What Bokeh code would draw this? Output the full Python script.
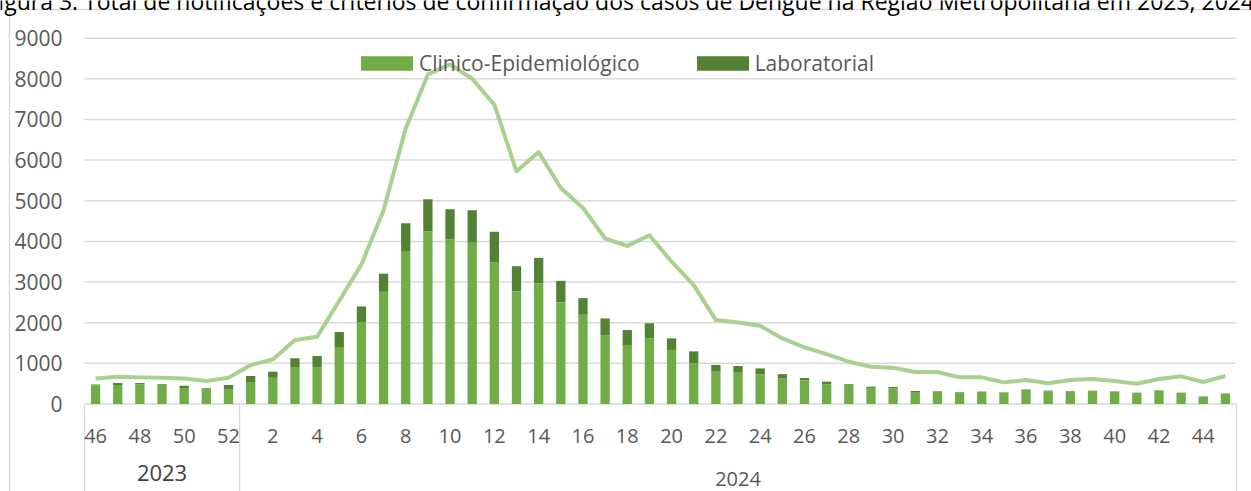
from bokeh.plotting import figure
from bokeh.models import Range1d, Legend, LegendItem, ColumnDataSource
from bokeh.core.properties import value
from bokeh.embed import file_html
from bokeh.resources import INLINE

# ---------------- data ----------------
weeks = [46, 47, 48, 49, 50, 51, 52,
         1, 2, 3, 4, 5, 6, 7, 8, 9, 10, 11, 12, 13, 14, 15, 16, 17, 18, 19, 20,
         21, 22, 23, 24, 25, 26, 27, 28, 29, 30, 31, 32, 33, 34, 35, 36, 37, 38,
         39, 40, 41, 42, 43, 44, 45]
years = ["2023"] * 7 + ["2024"] * 45

clinico = [460, 470, 480, 450, 395, 360, 370,
           540, 645, 895, 895, 1385, 2015, 2760, 3765, 4250, 4055, 3965, 3480, 2770,
           2965, 2500, 2195, 1690, 1450, 1615, 1330, 1000, 795, 770, 730, 630, 580,
           485, 450, 395, 385, 295, 310, 285, 295, 280, 350, 318, 310, 318, 303, 272,
           326, 272, 183, 255]
laboratorial = [20, 45, 35, 35, 55, 25, 95,
                150, 150, 230, 285, 385, 385, 445, 680, 785, 735, 800, 760, 620,
                630, 530, 410, 415, 370, 370, 285, 295, 165, 165, 145, 105, 60,
                65, 35, 30, 35, 25, 10, 10, 10, 8, 10, 10, 10, 10, 8, 7,
                10, 7, 5, 7]
notificacoes = [630, 670, 655, 647, 630, 565, 647,
                958, 1097, 1572, 1654, 2539, 3432, 4766, 6780, 8108, 8354, 8002, 7363, 5725,
                6200, 5315, 4824, 4071, 3890, 4152, 3500, 2924, 2064, 2007, 1925, 1613, 1392,
                1229, 1040, 917, 893, 786, 786, 655, 655, 532, 590, 508, 590, 614, 565, 500,
                614, 680, 541, 688]

y_ticks = [0, 1000, 2000, 3000, 4000, 5000, 6000, 7000, 8000, 9000]
y_tick_labels = ["0", "1000", "2000", "3000", "4000", "5000", "6000", "7000", "8000", "9000"]
series_names = ["Clinico-Epidemiológico", "Laboratorial"]
title_text = ("Figura 3. Total de notificações e critérios de confirmação dos casos de "
              "Dengue na Região Metropolitana em 2023, 2024")

# ---------------- layout (pixels) ----------------
W, H = 1251, 491
PLOT_L, PLOT_R = 84, 1236
ZERO_PX = 403.5
PX_PER_UNIT = 40.65 / 1000.0
n = len(weeks)
cat_w = (PLOT_R - PLOT_L) / n

def xd(px):
    return (px - PLOT_L) / cat_w - 0.5

def yd(py):
    return (ZERO_PX - py) / PX_PER_UNIT

FONT_NAME = "Open Sans"
FONT = value(FONT_NAME)
GREY_TXT = "#595959"
GRID = "#d9d9d9"
C_CLIN = "#70AD47"
C_LAB = "#548235"
C_LINE = "#A9D08E"

p = figure(width=W, height=H, output_backend="svg", toolbar_location=None,
           x_range=Range1d(xd(0), xd(W)), y_range=Range1d(yd(H), yd(0)),
           x_axis_type=None, y_axis_type=None, min_border=0)
p.outline_line_color = None
p.background_fill_color = "white"

idx = list(range(n))

# outer chart border (top and left)
p.segment(x0=[xd(9), xd(9)], y0=[yd(9), yd(9)], x1=[xd(9), xd(W + 10)], y1=[yd(H + 10), yd(9)],
          line_color=GRID, line_width=1.3)

# horizontal gridlines
p.segment(x0=-0.5, x1=n - 0.5, y0=y_ticks, y1=y_ticks, line_color=GRID, line_width=1.5)

# category group separators
bounds = [-0.5] + [i - 0.5 for i in range(1, n) if years[i] != years[i - 1]] + [n - 0.5]
p.segment(x0=bounds, x1=bounds, y0=0, y1=yd(H + 10), line_color=GRID, line_width=1.3)

# stacked bars
src = ColumnDataSource(dict(x=idx, clin=clinico, lab=laboratorial, total=notificacoes))
bars = p.vbar_stack(["clin", "lab"], x="x", width=0.42, color=[C_CLIN, C_LAB],
                    line_color=None, source=src)

# total notifications line
p.line(x="x", y="total", source=src, line_color=C_LINE, line_width=4, line_join="round")

# y tick labels
p.text(x=xd(62), y=y_ticks, text=y_tick_labels, text_align="right", text_baseline="middle",
       text_font=FONT, text_font_size="21px", text_color=GREY_TXT)

# week labels (every other category)
lab_idx = [i for i in idx if i % 2 == 0]
p.text(x=lab_idx, y=yd(435), text=[str(weeks[i]) for i in lab_idx], text_align="center",
       text_baseline="middle", text_font=FONT, text_font_size="20px", text_color=GREY_TXT)

# year labels centred in their groups
yr_names, yr_x = [], []
for yv in dict.fromkeys(years):
    ii = [i for i in idx if years[i] == yv]
    yr_names.append(yv)
    yr_x.append((ii[0] + ii[-1]) / 2)
p.text(x=yr_x, y=[yd(472), yd(478)], text=yr_names, text_align="center", text_baseline="middle",
       text_font=FONT, text_font_size=["22px", "20px"], text_color=["#404040", GREY_TXT])

# title (partly cut off at the top, as in the source)
p.text(x=[xd(-14)], y=[yd(0)], text=[title_text], text_align="left", text_baseline="alphabetic",
       text_font=FONT, text_font_size="23px", text_color="black")

legend = Legend(items=[LegendItem(label=series_names[0], renderers=[bars[0]]),
                       LegendItem(label=series_names[1], renderers=[bars[1]])],
                orientation="horizontal", location=(354, 414),
                glyph_width=65, glyph_height=18, label_standoff=0, spacing=50,
                padding=0, margin=0, border_line_color=None, background_fill_alpha=0,
                label_text_font=FONT_NAME, label_text_font_size="21px", label_text_color=GREY_TXT)
p.add_layout(legend)

open("out.html", "w").write(file_html(p, INLINE))
